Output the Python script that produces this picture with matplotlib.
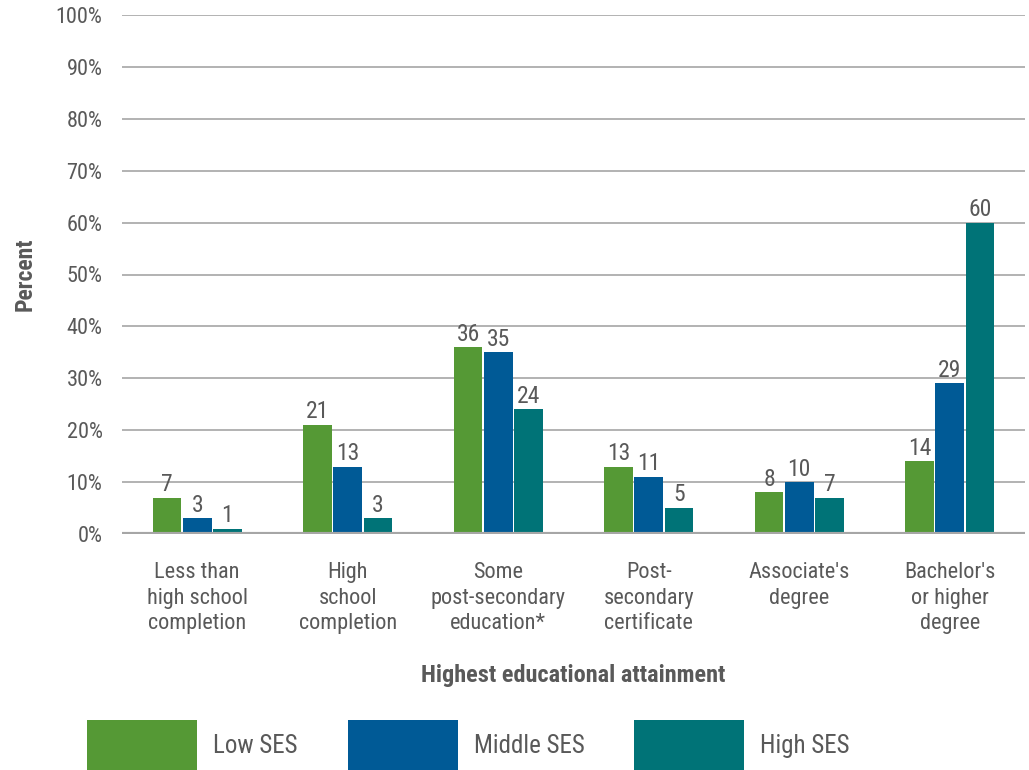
import numpy as np
import matplotlib.pyplot as plt
from matplotlib import font_manager

categories = ["Less than\nhigh school\ncompletion", "High\nschool\ncompletion",
              "Some\npost-secondary\neducation*", "Post-\nsecondary\ncertificate",
              "Associate's\ndegree", "Bachelor's\nor higher\ndegree"]
low_ses = [7, 21, 36, 13, 8, 14]
middle_ses = [3, 13, 35, 11, 10, 29]
high_ses = [1, 3, 24, 5, 7, 60]
series_names = ["Low SES", "Middle SES", "High SES"]
colors = ["#559935", "#005a96", "#007377"]

names = {f.name for f in font_manager.fontManager.ttflist}
fams = [f for f in ["Roboto Condensed", "Liberation Sans Narrow", "Liberation Sans", "DejaVu Sans"] if f in names]
plt.rcParams["font.family"] = fams

gray = "#595959"
fig = plt.figure(figsize=(10.29, 7.7), dpi=100)
ax = fig.add_axes([122 / 1029, 1 - 534 / 770, (1025 - 122) / 1029, (534 - 15) / 770])

x = np.arange(len(categories))
w = 0.19
step = 0.2
bars = []
for i, (vals, c, name) in enumerate(zip([low_ses, middle_ses, high_ses], colors, series_names)):
    b = ax.bar(x + (i - 1) * step, vals, w, color=c, label=name, zorder=3)
    bars.append(b)
    for xi, v in zip(x + (i - 1) * step, vals):
        ax.text(xi, v + 0.3, str(v), ha="center", va="bottom", fontsize=17, color=gray, zorder=4)

ax.set_xlim(-0.5, 5.5)
ax.set_ylim(0, 100)
ax.set_yticks(range(0, 101, 10))
ax.set_yticklabels([f"{t}%" for t in range(0, 101, 10)])
ax.yaxis.grid(True, color="#a6a6a6", linewidth=1.2, zorder=0)
ax.axhline(0, color="#a6a6a6", linewidth=3, zorder=5)
for s in ax.spines.values():
    s.set_visible(False)
ax.tick_params(axis="y", length=0, labelsize=16, labelcolor=gray, pad=14)
ax.tick_params(axis="x", length=0, labelsize=16, labelcolor=gray, pad=20)
ax.set_xticks(x)
ax.set_xticklabels(categories, linespacing=1.3)

ax.set_ylabel("Percent", fontsize=17, color=gray, fontweight="bold", labelpad=14)
ax.set_xlabel("Highest educational attainment", fontsize=17.5, color=gray, fontweight="bold", labelpad=21)

fig.legend(handles=bars, labels=series_names, loc="lower left", bbox_to_anchor=(87 / 1029, 0),
           ncol=3, frameon=False, fontsize=18, labelcolor=gray, borderpad=0, borderaxespad=0,
           handlelength=4.4, handleheight=2.68, handletextpad=0.64, columnspacing=2.0)

fig.savefig("out.png", dpi=100)
